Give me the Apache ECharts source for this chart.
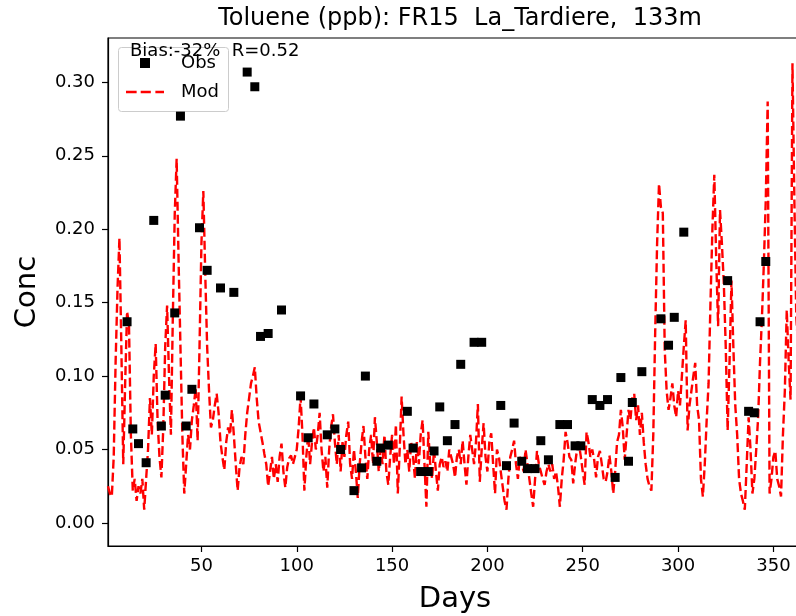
<!DOCTYPE html>
<html><head><meta charset="utf-8">
<script src="https://cdn.jsdelivr.net/npm/echarts@6/dist/echarts.min.js"></script>
<style>html,body{margin:0;padding:0;background:#fff}#c{width:796px;height:616px}</style>
</head><body><div id="c"></div>
<script>
const titleText = 'Toluene (ppb): FR15  La_Tardiere,  133m';
const statsText = 'Bias:-32%  R=0.52';
const xTicks = [50, 100, 150, 200, 250, 300, 350];
const yTicks = [0, 0.05, 0.10, 0.15, 0.20, 0.25, 0.30];

const obsDays = [11,14,17,21,25,29,31,36,39,42,45,49,53,60,67,74,78,81,85,92,
  102,106,109,116,120,123,130,134,136,142,144,148,158,161,165,169,172,175,179,183,
  186,193,197,207,210,214,218,221,225,228,232,238,242,246,249,255,259,263,267,270,
  274,276,281,291,295,298,303,326,337,340,343,346];
const obsValues = [0.137,0.064,0.054,0.041,0.206,0.066,0.087,0.143,0.277,0.066,0.091,0.201,0.172,0.160,0.157,0.307,0.297,0.127,0.129,0.145,
  0.0865,0.058,0.081,0.060,0.064,0.050,0.022,0.0375,0.100,0.042,0.051,0.053,0.076,0.051,0.035,0.035,0.049,0.079,0.056,0.067,
  0.108,0.123,0.123,0.080,0.039,0.068,0.042,0.037,0.037,0.056,0.043,0.067,0.067,0.0525,0.0525,0.084,0.080,0.084,0.031,0.099,
  0.042,0.082,0.103,0.139,0.121,0.140,0.198,0.165,0.076,0.075,0.137,0.178];

// model, day 1..365
const modValues = [
  0.025,0.020,0.018,0.045,0.110,0.160,0.194,0.120,0.040,0.095,
  0.144,0.135,0.060,0.022,0.030,0.015,0.025,0.020,0.030,0.009,
  0.030,0.050,0.085,0.060,0.100,0.122,0.070,0.045,0.031,0.065,
  0.120,0.148,0.100,0.060,0.140,0.210,0.248,0.180,0.120,0.060,
  0.020,0.040,0.060,0.050,0.070,0.080,0.092,0.056,0.120,0.190,
  0.226,0.170,0.120,0.090,0.065,0.070,0.080,0.088,0.075,0.055,
  0.045,0.036,0.055,0.065,0.060,0.077,0.060,0.040,0.022,0.038,
  0.045,0.040,0.060,0.075,0.085,0.095,0.100,0.106,0.085,0.069,
  0.062,0.055,0.047,0.040,0.025,0.035,0.045,0.030,0.040,0.028,
  0.045,0.054,0.035,0.024,0.038,0.044,0.046,0.040,0.045,0.050,
  0.065,0.086,0.060,0.022,0.045,0.060,0.040,0.055,0.065,0.050,
  0.060,0.075,0.050,0.035,0.045,0.024,0.050,0.065,0.074,0.055,
  0.040,0.060,0.035,0.055,0.045,0.060,0.069,0.040,0.030,0.050,
  0.035,0.017,0.040,0.055,0.066,0.045,0.030,0.050,0.060,0.040,
  0.072,0.055,0.035,0.050,0.040,0.060,0.035,0.026,0.045,0.060,
  0.040,0.067,0.020,0.050,0.086,0.060,0.040,0.050,0.035,0.055,
  0.045,0.030,0.055,0.040,0.060,0.070,0.040,0.011,0.062,0.040,
  0.030,0.050,0.035,0.022,0.040,0.045,0.038,0.042,0.035,0.050,
  0.045,0.040,0.031,0.045,0.050,0.040,0.056,0.040,0.026,0.045,
  0.060,0.050,0.040,0.055,0.081,0.028,0.050,0.068,0.045,0.035,
  0.055,0.061,0.040,0.020,0.050,0.045,0.035,0.025,0.015,0.009,
  0.030,0.045,0.050,0.056,0.040,0.030,0.045,0.040,0.035,0.050,
  0.040,0.030,0.020,0.011,0.030,0.049,0.040,0.035,0.030,0.026,
  0.035,0.040,0.035,0.040,0.030,0.035,0.025,0.011,0.030,0.043,
  0.062,0.055,0.045,0.043,0.027,0.040,0.050,0.054,0.045,0.035,
  0.026,0.062,0.055,0.045,0.050,0.043,0.031,0.045,0.049,0.040,
  0.030,0.028,0.035,0.046,0.035,0.020,0.035,0.055,0.060,0.077,
  0.065,0.043,0.060,0.077,0.070,0.085,0.088,0.070,0.080,0.060,
  0.075,0.055,0.040,0.030,0.025,0.022,0.060,0.130,0.190,0.231,
  0.215,0.211,0.118,0.090,0.077,0.085,0.095,0.080,0.072,0.090,
  0.080,0.100,0.120,0.138,0.063,0.080,0.090,0.100,0.109,0.080,
  0.070,0.030,0.018,0.040,0.070,0.095,0.150,0.200,0.237,0.180,
  0.134,0.213,0.190,0.163,0.120,0.063,0.110,0.165,0.120,0.080,
  0.060,0.030,0.020,0.015,0.009,0.040,0.072,0.050,0.020,0.030,
  0.050,0.072,0.110,0.140,0.177,0.220,0.287,0.020,0.030,0.045,
  0.049,0.030,0.025,0.018,0.060,0.090,0.145,0.110,0.084,0.313,
  0.220,0.140,0.120,0.110,0.100
];

const FONT = 'DejaVu Sans';
const modData = modValues.map((v, i) => [i + 1, v]);
const obsData = obsDays.map((d, i) => [d, obsValues[i]]);

const chart = echarts.init(document.getElementById('c'), null, {renderer: 'canvas'});
chart.setOption({
  backgroundColor: '#ffffff',
  animation: false,
  title: {
    text: titleText, left: 455, top: 2, textAlign: 'center',
    textStyle: {fontFamily: FONT, fontSize: 24, fontWeight: 'normal', color: '#000'}
  },
  grid: {left: 108, top: 38, right: -6, bottom: 70, show: true, borderColor: '#000', borderWidth: 1.2, outerBoundsMode: 'none'},
  xAxis: {
    type: 'value', min: 1, max: 365,
    name: 'Days', nameLocation: 'middle', nameGap: 39,
    nameTextStyle: {fontFamily: FONT, fontSize: 29, color: '#000', verticalAlign: 'top'},
    axisLine: {show: true, onZero: false, lineStyle: {color: '#000', width: 1.2}},
    axisTick: {show: true, length: 6, lineStyle: {color: '#000', width: 1.2}, customValues: xTicks},
    axisLabel: {fontFamily: FONT, fontSize: 18, color: '#000', margin: 11, customValues: xTicks},
    splitLine: {show: false}
  },
  yAxis: {
    type: 'value', min: -0.0157, max: 0.3302,
    name: 'Conc', nameLocation: 'middle', nameGap: 66, nameRotate: 90,
    nameTextStyle: {fontFamily: FONT, fontSize: 29, color: '#000'},
    axisLine: {show: true, onZero: false, lineStyle: {color: '#000', width: 1.2}},
    axisTick: {show: true, length: 6, lineStyle: {color: '#000', width: 1.2}, customValues: yTicks},
    axisLabel: {fontFamily: FONT, fontSize: 18, color: '#000', margin: 13, customValues: yTicks,
      formatter: v => v.toFixed(2)},
    splitLine: {show: false}
  },
  legend: [
    {
      data: [{name: 'Obs', icon: 'rect'}], orient: 'vertical', left: 140, top: 54,
      itemWidth: 10, itemHeight: 10, itemGap: 0, padding: 0,
      textStyle: {fontFamily: FONT, fontSize: 18, color: '#000', padding: [0, 0, 0, 26]}, z: 5
    },
    {
      data: [{name: 'Mod', icon: 'path://M0,0h10.5v2.6h-10.5z M14.5,0h10v2.6h-10z M29,0h8.5v2.6h-8.5z'}],
      orient: 'vertical', left: 126, top: 83, symbolKeepAspect: true,
      itemWidth: 38, itemHeight: 14, itemGap: 0, padding: 0,
      textStyle: {fontFamily: FONT, fontSize: 18, color: '#000', padding: [0, 0, 0, 12]}, z: 5
    }
  ],
  graphic: [
    {type: 'rect', left: 118, top: 47, z: 3,
      shape: {width: 110, height: 64, r: 3},
      style: {fill: 'rgba(255,255,255,0.8)', stroke: '#cccccc', lineWidth: 1}},
    {type: 'text', left: 130, top: 42, z: 10,
      style: {text: statsText, fontFamily: FONT, fontSize: 18, fill: '#000'}}
  ],
  series: [
    {
      name: 'Mod', type: 'line', data: modData, symbol: 'none', z: 2,
      lineStyle: {color: '#ff0000', width: 2.4, type: [9, 4]},
      itemStyle: {color: '#ff0000'}
    },
    {
      name: 'Obs', type: 'scatter', data: obsData, symbol: 'rect', symbolSize: 9, z: 3,
      itemStyle: {color: '#000000', opacity: 1}
    }
  ]
});
</script></body></html>
